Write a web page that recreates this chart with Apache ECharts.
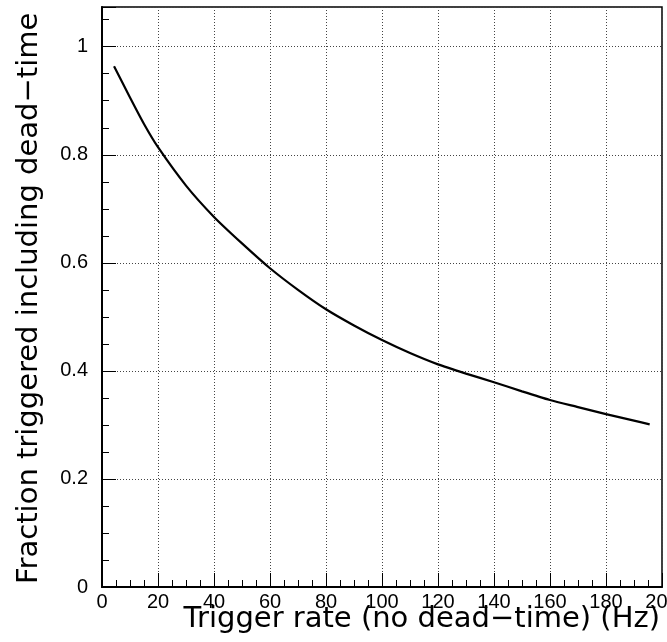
<!DOCTYPE html>
<html>
<head>
<meta charset="utf-8">
<script src="https://cdn.jsdelivr.net/npm/echarts@6/dist/echarts.min.js"></script>
<style>
html,body{margin:0;padding:0;background:#fff;}
#chart{width:667px;height:642px;}
</style>
</head>
<body>
<div id="chart"></div>
<script>
// Trigger rate without dead-time (Hz)
var rates = [4.3, 10, 15, 20, 30, 40, 50, 60, 70, 80, 90, 100, 110, 120, 130, 140, 150, 160, 170, 180, 190, 195.6];
// Fraction triggered including dead-time
var fractions = [0.964, 0.906, 0.857, 0.814, 0.743, 0.685, 0.636, 0.590, 0.550, 0.514, 0.484, 0.457, 0.433, 0.412, 0.395, 0.379, 0.362, 0.346, 0.333, 0.320, 0.308, 0.301];
var xTitle = 'Trigger rate (no dead\u2212time) (Hz)';
var yTitle = 'Fraction triggered including dead\u2212time';

var points = rates.map(function (r, i) { return [r, fractions[i]]; });

var chart = echarts.init(document.getElementById('chart'), null, {renderer: 'canvas'});
var gridStyle = {show: true, lineStyle: {color: '#444', width: 1, type: [1, 2]}};
var font = 'DejaVu Sans';
chart.setOption({
  animation: false,
  backgroundColor: '#fff',
  grid: {left: 102, right: 5, top: 7, bottom: 55, show: true, borderColor: '#000', borderWidth: 1.5,
         containLabel: false, outerBoundsMode: 'none'},
  xAxis: {
    type: 'value', min: 0, max: 200, interval: 20,
    axisLine: {show: true, onZero: false, lineStyle: {color: '#000', width: 2}},
    axisTick: {show: true, inside: true, length: 14, lineStyle: {color: '#000', width: 1}},
    minorTick: {show: true, splitNumber: 4, length: 7, lineStyle: {color: '#000', width: 1}},
    splitLine: gridStyle,
    axisLabel: {color: '#000', fontFamily: 'Liberation Sans', fontSize: 20, margin: 5, showMaxLabel: true, hideOverlap: false}
  },
  yAxis: {
    type: 'value', min: 0, max: 1.0735, interval: 0.2,
    axisLine: {show: true, onZero: false, lineStyle: {color: '#000', width: 2}},
    axisTick: {show: true, inside: true, length: 14, lineStyle: {color: '#000', width: 1}},
    minorTick: {show: true, splitNumber: 4, length: 7, lineStyle: {color: '#000', width: 1}},
    splitLine: gridStyle,
    axisLabel: {color: '#000', fontFamily: 'Liberation Sans', fontSize: 20, margin: 14,
      formatter: function (v) {
        var k = Math.round(v / 0.2);
        if (Math.abs(v - k * 0.2) > 1e-6) return '';
        return String(Math.round(v * 10) / 10);
      }}
  },
  graphic: [
    {type: 'text', x: 660, y: 634, style: {text: xTitle, fill: '#000', font: '29px "' + font + '"', align: 'right', verticalAlign: 'bottom'}},
    {type: 'text', x: 44, y: 584, rotation: Math.PI / 2, style: {text: yTitle, fill: '#000', font: '29px "' + font + '"', align: 'left', verticalAlign: 'bottom'}}
  ],
  series: [{
    type: 'line', data: points, showSymbol: false, symbol: 'none',
    lineStyle: {color: '#000', width: 2.2}, smooth: 0.2
  }]
});
</script>
</body>
</html>
